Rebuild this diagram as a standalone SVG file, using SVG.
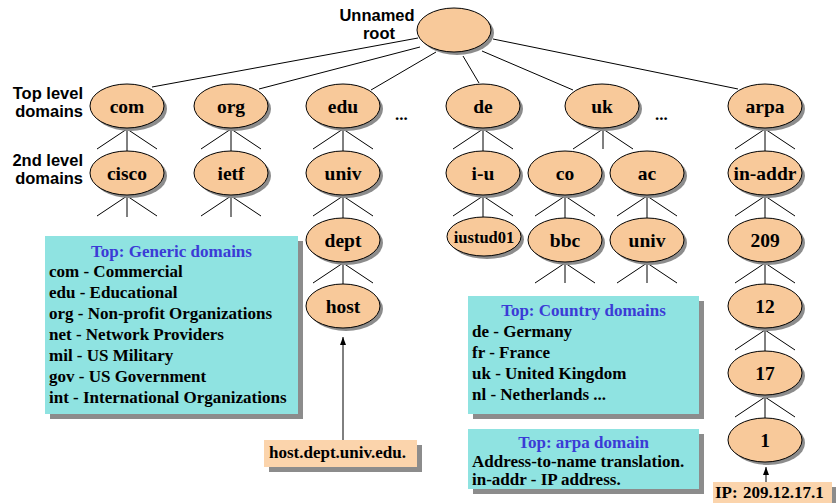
<svg xmlns="http://www.w3.org/2000/svg" width="836" height="503" viewBox="0 0 836 503">
  <style>
    .nd { fill: #f8c99a; stroke: #000; stroke-width: 1; }
    .sh { fill: #8c8c8c; }
    .lbl { font-family: "Liberation Serif", "Times New Roman", serif; font-weight: bold; font-size: 19.5px; text-anchor: middle; fill: #000; }
    .side { font-family: "Liberation Sans", Arial, sans-serif; font-weight: bold; font-size: 16.5px; fill: #000; }
    .ln { stroke: #000; stroke-width: 1; fill: none; }
    .box { fill: #8fe3e1; }
    .tag { fill: #fbd4ac; }
    .bsh { fill: #8c8c8c; }
    .bt { font-family: "Liberation Serif", "Times New Roman", serif; font-weight: bold; font-size: 17px; fill: #000; }
    .ttl { fill: #3b3bd6; text-anchor: middle; }
  </style>
  <defs>
    <marker id="arr" markerWidth="8" markerHeight="8" refX="8" refY="3" orient="auto" markerUnits="userSpaceOnUse">
      <path d="M0,0 L8,3 L0,6 z" fill="#000"/>
    </marker>
  </defs>

  <!-- level captions -->
  <g id="captions" class="side">
    <text x="377" y="21" text-anchor="middle">Unnamed</text>
    <text x="379" y="39" text-anchor="middle">root</text>
    <text x="83" y="99" text-anchor="end">Top level</text>
    <text x="83" y="117" text-anchor="end">domains</text>
    <text x="83" y="166" text-anchor="end">2nd level</text>
    <text x="83" y="184" text-anchor="end">domains</text>
  </g>

  <!-- tree edges, fans and arrows -->
  <g id="connectors" class="ln">
    <!-- root to top level -->
    <line x1="152" y1="87" x2="418" y2="38"/>
    <line x1="259" y1="89" x2="420" y2="47"/>
    <line x1="371" y1="90" x2="436" y2="52"/>
    <line x1="479" y1="83" x2="463" y2="56"/>
    <line x1="573" y1="90" x2="482" y2="51"/>
    <line x1="738" y1="89" x2="493" y2="39"/>
    <!-- fans below top level -->
    <path d="M97,149 L127,129 L157,149 M127,129 V151"/>
    <path d="M201,149 L231,129 L261,149 M231,129 V151"/>
    <path d="M313,149 L343,129 L373,149 M343,129 V151"/>
    <path d="M453,149 L483,129 L513,149 M483,129 V151"/>
    <path d="M573,149 L603,129 L633,149 M603,129 V149"/>
    <path d="M735,149 L765,129 L795,149 M765,129 V151"/>
    <!-- fans below second level -->
    <path d="M97,216 L127,196 L157,216 M127,196 V217"/>
    <path d="M201,216 L231,196 L261,216 M231,196 V217"/>
    <path d="M313,216 L343,196 L373,216 M343,196 V218"/>
    <path d="M453,216 L483,196 L513,216 M483,196 V217"/>
    <path d="M535,216 L565,196 L595,216 M565,196 V218"/>
    <path d="M617,216 L647,196 L677,216 M647,196 V218"/>
    <path d="M735,216 L765,196 L795,216 M765,196 V218"/>
    <!-- fans below third level -->
    <path d="M313,283 L343,263 L373,283 M343,263 V284"/>
    <path d="M535,283 L565,263 L595,283 M565,263 V283"/>
    <path d="M617,283 L647,263 L677,283 M647,263 V283"/>
    <path d="M735,283 L765,263 L795,283 M765,263 V284"/>
    <!-- arpa chain -->
    <path d="M735,350 L765,330 L795,350 M765,330 V351"/>
    <path d="M735,417 L765,397 L795,417 M765,397 V418"/>
    <!-- name / address arrows -->
    <line x1="343" y1="440" x2="343" y2="337" marker-end="url(#arr)"/>
    <line x1="766" y1="482" x2="766" y2="467" marker-end="url(#arr)"/>
  </g>

  <!-- nodes -->
  <g id="node-root"><ellipse class="sh" cx="457" cy="33" rx="37" ry="22"/><ellipse class="nd" cx="454" cy="30" rx="37" ry="22"/></g>

  <g id="node-com"><ellipse class="sh" cx="130" cy="109" rx="37" ry="22"/><ellipse class="nd" cx="127" cy="106" rx="37" ry="22"/><text class="lbl" x="127" y="113">com</text></g>
  <g id="node-org"><ellipse class="sh" cx="234" cy="109" rx="37" ry="22"/><ellipse class="nd" cx="231" cy="106" rx="37" ry="22"/><text class="lbl" x="231" y="113">org</text></g>
  <g id="node-edu"><ellipse class="sh" cx="346" cy="109" rx="37" ry="22"/><ellipse class="nd" cx="343" cy="106" rx="37" ry="22"/><text class="lbl" x="343" y="113">edu</text></g>
  <g id="node-de"><ellipse class="sh" cx="486" cy="109" rx="37" ry="22"/><ellipse class="nd" cx="483" cy="106" rx="37" ry="22"/><text class="lbl" x="483" y="113">de</text></g>
  <g id="node-uk"><ellipse class="sh" cx="605" cy="109" rx="37" ry="22"/><ellipse class="nd" cx="602" cy="106" rx="37" ry="22"/><text class="lbl" x="602" y="113">uk</text></g>
  <g id="node-arpa"><ellipse class="sh" cx="768" cy="109" rx="37" ry="22"/><ellipse class="nd" cx="765" cy="106" rx="37" ry="22"/><text class="lbl" x="765" y="113">arpa</text></g>

  <g id="ellipsis" class="bt">
    <text x="395" y="120">...</text>
    <text x="655" y="120">...</text>
  </g>

  <g id="node-cisco"><ellipse class="sh" cx="130" cy="176" rx="37" ry="22"/><ellipse class="nd" cx="127" cy="173" rx="37" ry="22"/><text class="lbl" x="127" y="180">cisco</text></g>
  <g id="node-ietf"><ellipse class="sh" cx="234" cy="176" rx="37" ry="22"/><ellipse class="nd" cx="231" cy="173" rx="37" ry="22"/><text class="lbl" x="231" y="180">ietf</text></g>
  <g id="node-univ"><ellipse class="sh" cx="346" cy="176" rx="37" ry="22"/><ellipse class="nd" cx="343" cy="173" rx="37" ry="22"/><text class="lbl" x="343" y="180">univ</text></g>
  <g id="node-i-u"><ellipse class="sh" cx="486" cy="176" rx="37" ry="22"/><ellipse class="nd" cx="483" cy="173" rx="37" ry="22"/><text class="lbl" x="483" y="180">i-u</text></g>
  <g id="node-co"><ellipse class="sh" cx="568" cy="176" rx="37" ry="22"/><ellipse class="nd" cx="565" cy="173" rx="37" ry="22"/><text class="lbl" x="565" y="180">co</text></g>
  <g id="node-ac"><ellipse class="sh" cx="650" cy="176" rx="37" ry="22"/><ellipse class="nd" cx="647" cy="173" rx="37" ry="22"/><text class="lbl" x="647" y="180">ac</text></g>
  <g id="node-in-addr"><ellipse class="sh" cx="768" cy="176" rx="37" ry="22"/><ellipse class="nd" cx="765" cy="173" rx="37" ry="22"/><text class="lbl" x="765" y="180">in-addr</text></g>

  <g id="node-dept"><ellipse class="sh" cx="346" cy="243" rx="37" ry="22"/><ellipse class="nd" cx="343" cy="240" rx="37" ry="22"/><text class="lbl" x="343" y="247">dept</text></g>
  <g id="node-iustud01"><ellipse class="sh" cx="487" cy="239.5" rx="37" ry="19.5"/><ellipse class="nd" cx="484" cy="236.5" rx="37" ry="19.5"/><text class="lbl" x="484" y="243" style="font-size:16.5px">iustud01</text></g>
  <g id="node-bbc"><ellipse class="sh" cx="568" cy="243" rx="37" ry="22"/><ellipse class="nd" cx="565" cy="240" rx="37" ry="22"/><text class="lbl" x="565" y="247">bbc</text></g>
  <g id="node-univ2"><ellipse class="sh" cx="650" cy="243" rx="37" ry="22"/><ellipse class="nd" cx="647" cy="240" rx="37" ry="22"/><text class="lbl" x="647" y="247">univ</text></g>
  <g id="node-209"><ellipse class="sh" cx="768" cy="243" rx="37" ry="22"/><ellipse class="nd" cx="765" cy="240" rx="37" ry="22"/><text class="lbl" x="765" y="247">209</text></g>

  <g id="node-host"><ellipse class="sh" cx="346" cy="309" rx="37" ry="22"/><ellipse class="nd" cx="343" cy="306" rx="37" ry="22"/><text class="lbl" x="343" y="313">host</text></g>
  <g id="node-12"><ellipse class="sh" cx="768" cy="309" rx="37" ry="22"/><ellipse class="nd" cx="765" cy="306" rx="37" ry="22"/><text class="lbl" x="765" y="313">12</text></g>
  <g id="node-17"><ellipse class="sh" cx="768" cy="376" rx="37" ry="22"/><ellipse class="nd" cx="765" cy="373" rx="37" ry="22"/><text class="lbl" x="765" y="380">17</text></g>
  <g id="node-1"><ellipse class="sh" cx="768" cy="443" rx="37" ry="22"/><ellipse class="nd" cx="765" cy="440" rx="37" ry="22"/><text class="lbl" x="765" y="447">1</text></g>

  <!-- legend boxes -->
  <g id="box-generic" class="bt">
    <rect class="bsh" x="50" y="241" width="253" height="178"/>
    <rect class="box" x="45" y="236" width="253" height="178"/>
    <text class="ttl" x="171.5" y="257">Top: Generic domains</text>
    <text x="49" y="277">com - Commercial</text>
    <text x="49" y="298">edu - Educational</text>
    <text x="49" y="319">org - Non-profit Organizations</text>
    <text x="49" y="340">net - Network Providers</text>
    <text x="49" y="361">mil - US Military</text>
    <text x="49" y="382">gov - US Government</text>
    <text x="49" y="403">int - International Organizations</text>
  </g>

  <g id="box-country" class="bt">
    <rect class="bsh" x="473" y="301" width="231" height="118"/>
    <rect class="box" x="468" y="296" width="231" height="118"/>
    <text class="ttl" x="583.5" y="316">Top: Country domains</text>
    <text x="472" y="337">de - Germany</text>
    <text x="472" y="358">fr - France</text>
    <text x="472" y="379">uk - United Kingdom</text>
    <text x="472" y="400">nl - Netherlands ...</text>
  </g>

  <g id="box-arpa" class="bt">
    <rect class="bsh" x="473" y="434" width="231" height="60"/>
    <rect class="box" x="468" y="429" width="231" height="60"/>
    <text class="ttl" x="583.5" y="448">Top: arpa domain</text>
    <text x="472" y="467">Address-to-name translation.</text>
    <text x="472" y="485">in-addr - IP address.</text>
  </g>

  <g id="tag-hostname" class="bt">
    <rect class="bsh" x="269" y="445" width="153" height="27"/>
    <rect class="tag" x="264" y="440" width="153" height="27"/>
    <text x="269" y="458">host.dept.univ.edu.</text>
  </g>

  <g id="tag-ip" class="bt">
    <rect class="bsh" x="718" y="487" width="118" height="20"/>
    <rect class="tag" x="713" y="482" width="119" height="25"/>
    <text x="715" y="498">IP:</text>
    <text x="743" y="498">209.12.17.1</text>
  </g>
</svg>
